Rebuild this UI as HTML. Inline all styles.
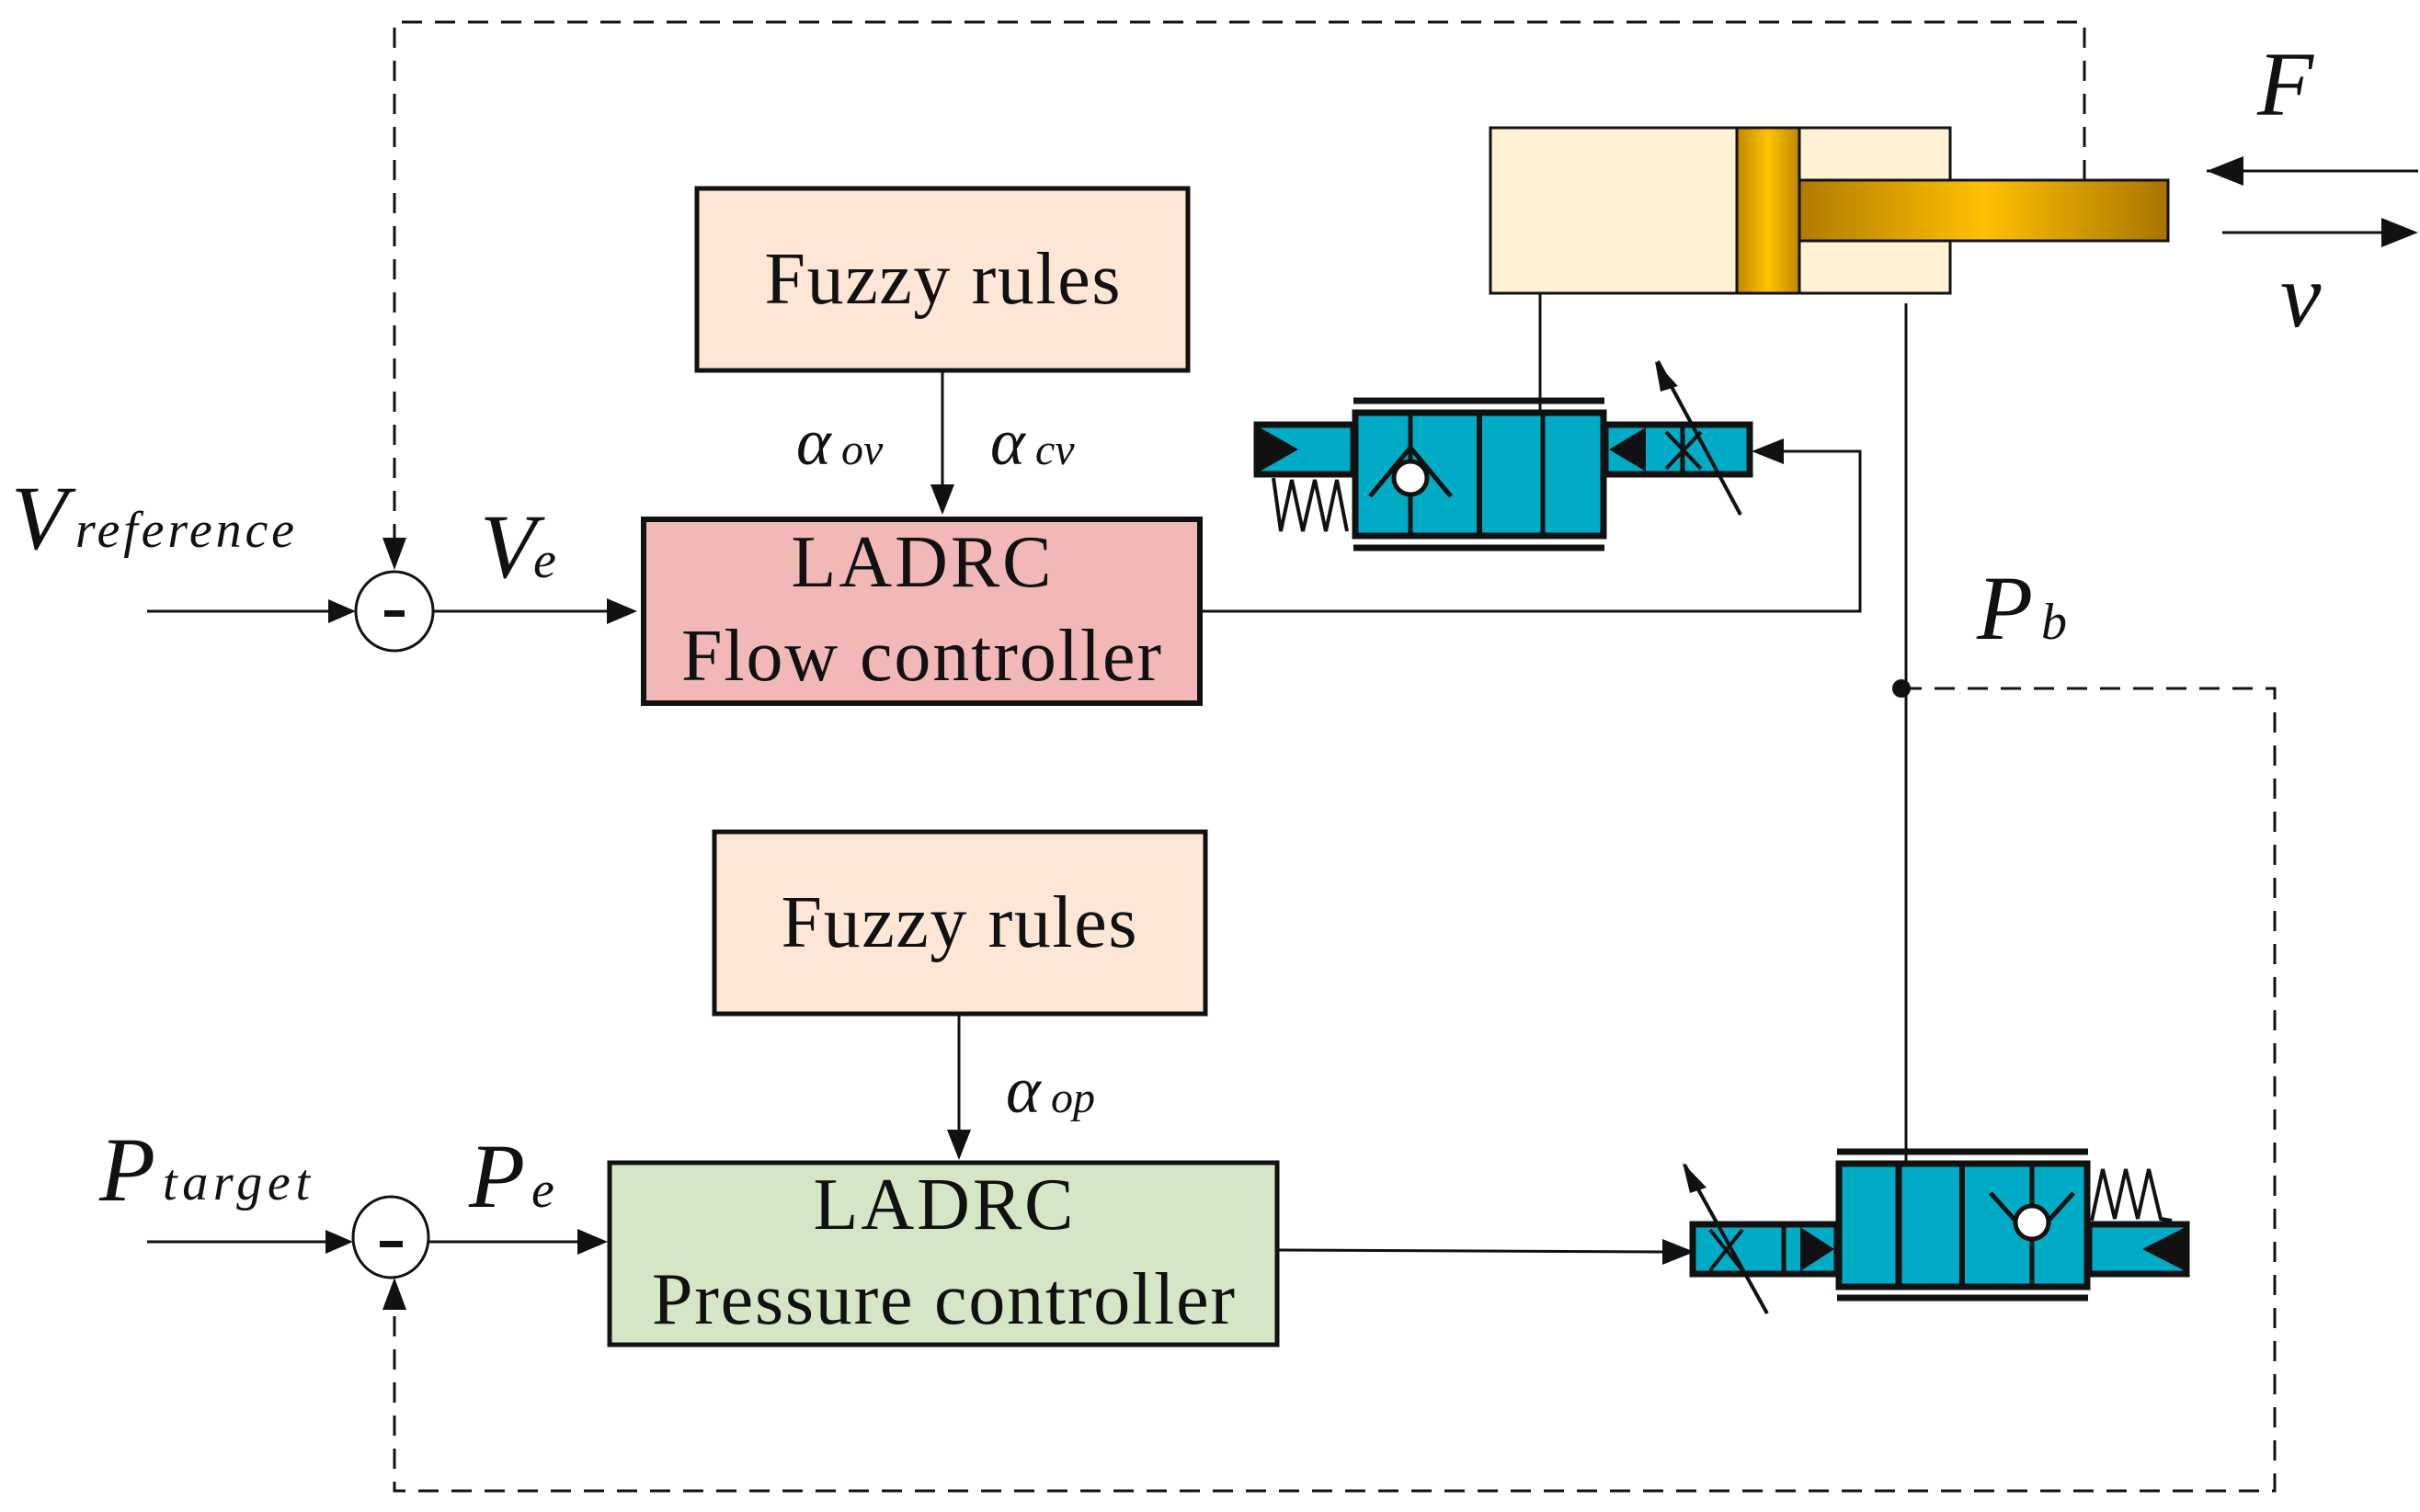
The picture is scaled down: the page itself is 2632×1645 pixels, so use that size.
<!DOCTYPE html>
<html><head><meta charset="utf-8"><style>
html,body{margin:0;padding:0;background:#fff}
svg{display:block}
.t{font-family:"Liberation Serif",serif;fill:#111}
.i{font-family:"Liberation Serif",serif;font-style:italic;fill:#111}
</style></head><body>
<svg width="2632" height="1645" viewBox="0 0 2632 1645" xmlns="http://www.w3.org/2000/svg">
<defs>
<marker id="ar" viewBox="0 0 10 10" refX="10" refY="5" markerWidth="10" markerHeight="10" markerUnits="userSpaceOnUse" orient="auto">
</marker>
<linearGradient id="gold" x1="0" y1="0" x2="1" y2="0">
<stop offset="0" stop-color="#b07a00"/><stop offset="0.5" stop-color="#ffc000"/><stop offset="1" stop-color="#a87400"/>
</linearGradient>
<linearGradient id="goldv" x1="0" y1="0" x2="1" y2="0">
<stop offset="0" stop-color="#c08800"/><stop offset="0.5" stop-color="#ffc400"/><stop offset="1" stop-color="#c08800"/>
</linearGradient>
</defs>
<g fill="none" stroke="#111" stroke-width="3">
<!-- dashed feedback top -->
<path d="M2267 196 V24 H429 V614" stroke-dasharray="22 14"/>
<!-- dashed feedback bottom -->
<path d="M2068 749 H2474 V1622 H429 V1400" stroke-dasharray="22 14"/>
<!-- input lines -->
<path d="M160 665 H360"/>
<path d="M471 665 H660"/>
<path d="M160 1351 H360"/>
<path d="M467 1351 H630"/>
<path d="M1025 404 V530"/>
<path d="M1043 1104 V1230"/>
<path d="M1306 665 H2023 V491 H1935"/>
<path d="M1390 1360 L1810 1362"/>
<!-- cylinder lines -->
<path d="M1675 320 V585"/>
<path d="M2073 330 V1263"/>
<path d="M2400 186 H2630"/>
<path d="M2417 253 H2590"/>
</g>
<!-- arrowheads -->
<g fill="#111">
<polygon points="387,665 357,652 357,678"/>
<polygon points="693,665 660,651 660,679"/>
<polygon points="384,1351 354,1338 354,1364"/>
<polygon points="661,1351 628,1337 628,1365"/>
<polygon points="429,620 416,585 442,585"/>
<polygon points="429,1390 416,1425 442,1425"/>
<polygon points="1025,560 1012,527 1038,527"/>
<polygon points="1043,1262 1030,1229 1056,1229"/>
<polygon points="1905,491 1940,477 1940,505"/>
<polygon points="1843,1362 1808,1348 1808,1376"/>
<polygon points="2400,186 2440,170 2440,202"/>
<polygon points="2630,253 2590,237 2590,269"/>
<circle cx="2068" cy="749" r="10"/>
</g>
<!-- sum circles -->
<ellipse cx="429" cy="665" rx="42" ry="43" fill="#fff" stroke="#111" stroke-width="3"/>
<rect x="418" y="664" width="22" height="7" fill="#111"/>
<ellipse cx="425" cy="1346" rx="41" ry="44" fill="#fff" stroke="#111" stroke-width="3"/>
<rect x="413" y="1350" width="25" height="7" fill="#111"/>
<!-- boxes -->
<rect x="758" y="205" width="534" height="198" fill="#fde6d6" stroke="#111" stroke-width="5"/>
<text class="t" x="1025" y="330" font-size="80" text-anchor="middle" textLength="387">Fuzzy rules</text>
<rect x="700" y="565" width="605" height="200" fill="#f2b8b8" stroke="#111" stroke-width="6"/>
<text class="t" x="1002" y="638" font-size="80" text-anchor="middle" textLength="283">LADRC</text>
<text class="t" x="1002" y="740" font-size="80" text-anchor="middle" textLength="522">Flow controller</text>
<rect x="777" y="905" width="534" height="198" fill="#fde6d6" stroke="#111" stroke-width="5"/>
<text class="t" x="1043" y="1030" font-size="80" text-anchor="middle" textLength="387">Fuzzy rules</text>
<rect x="663" y="1265" width="726" height="198" fill="#d5e6c6" stroke="#111" stroke-width="5"/>
<text class="t" x="1026" y="1337" font-size="80" text-anchor="middle" textLength="283">LADRC</text>
<text class="t" x="1026" y="1440" font-size="80" text-anchor="middle" textLength="634">Pressure controller</text>
<!-- labels -->
<text class="i" x="12" y="597" font-size="100">V</text>
<text class="i" x="82" y="595" font-size="56" textLength="238">reference</text>
<text class="i" x="522" y="628" font-size="100">V</text>
<text class="i" x="580" y="628" font-size="56">e</text>
<text class="i" x="866" y="505" font-size="72">α</text><text class="i" x="915" y="505" font-size="48">ov</text>
<text class="i" x="1077" y="505" font-size="72">α</text><text class="i" x="1126" y="505" font-size="48">cv</text>
<text class="i" x="1094" y="1210" font-size="72">α</text><text class="i" x="1143" y="1210" font-size="48">op</text>
<text class="i" x="108" y="1306" font-size="100">P</text>
<text class="i" x="177" y="1305" font-size="56" textLength="160">target</text>
<text class="i" x="510" y="1313" font-size="100">P</text>
<text class="i" x="578" y="1313" font-size="56">e</text>
<text class="i" x="2150" y="695" font-size="100">P</text>
<text class="i" x="2220" y="695" font-size="56">b</text>
<text class="i" x="2455" y="125" font-size="100">F</text>
<text class="i" x="2480" y="355" font-size="100">v</text>
<!-- cylinder -->
<rect x="1621" y="139" width="500" height="180" fill="#fff1d4" stroke="#111" stroke-width="3"/>
<rect x="1889" y="139" width="68" height="180" fill="url(#goldv)" stroke="#111" stroke-width="3"/>
<rect x="1957" y="196" width="401" height="66" fill="url(#gold)" stroke="#111" stroke-width="3"/>
<!-- valve 1 -->
<g stroke="#111">
<rect x="1367" y="462" width="105" height="54" fill="#00abc6" stroke-width="7"/>
<rect x="1474" y="449" width="270" height="134" fill="#00abc6" stroke-width="7"/>
<rect x="1746" y="462" width="157" height="54" fill="#00abc6" stroke-width="7"/>
<line x1="1472" y1="436" x2="1745" y2="436" stroke-width="7"/>
<line x1="1472" y1="596" x2="1745" y2="596" stroke-width="7"/>
<line x1="1534" y1="452" x2="1534" y2="582" stroke-width="5"/>
<line x1="1609" y1="452" x2="1609" y2="582" stroke-width="6"/>
<line x1="1678" y1="452" x2="1678" y2="582" stroke-width="5"/>
<line x1="1830" y1="465" x2="1830" y2="515" stroke-width="5"/>
<path d="M1490 540 L1534 487 L1578 540" fill="none" stroke-width="5"/>
<circle cx="1534" cy="520" r="18" fill="#fff" stroke-width="5"/>
<path d="M1385 520 L1393 578 L1405 522 L1417 578 L1430 522 L1442 578 L1454 522 L1465 578" fill="none" stroke-width="4"/>
<path d="M1812 470 L1850 510 M1850 470 L1812 510" stroke-width="4"/>
<line x1="1803" y1="393" x2="1893" y2="560" stroke-width="4"/>
</g>
<g fill="#111">
<polygon points="1370,465 1412,489 1370,513"/>
<polygon points="1790,465 1750,489 1790,513"/>
<polygon points="1800,393 1825,420 1806,426"/>
</g>
<!-- valve 2 -->
<g stroke="#111">
<rect x="1841" y="1332" width="157" height="54" fill="#00abc6" stroke-width="7"/>
<rect x="2000" y="1266" width="270" height="134" fill="#00abc6" stroke-width="7"/>
<rect x="2272" y="1332" width="106" height="54" fill="#00abc6" stroke-width="7"/>
<line x1="1998" y1="1253" x2="2271" y2="1253" stroke-width="7"/>
<line x1="1998" y1="1412" x2="2271" y2="1412" stroke-width="7"/>
<line x1="2065" y1="1263" x2="2065" y2="1398" stroke-width="7"/>
<line x1="2134" y1="1268" x2="2134" y2="1398" stroke-width="6"/>
<line x1="2210" y1="1268" x2="2210" y2="1398" stroke-width="5"/>
<line x1="1940" y1="1335" x2="1940" y2="1385" stroke-width="5"/>
<path d="M2165 1298 L2210 1348 L2255 1298" fill="none" stroke-width="5"/>
<circle cx="2210" cy="1330" r="18" fill="#fff" stroke-width="5"/>
<path d="M2275 1328 L2287 1272 L2300 1326 L2312 1272 L2325 1326 L2337 1272 L2350 1326 L2362 1328" fill="none" stroke-width="4"/>
<path d="M1860 1338 L1895 1382 M1895 1338 L1860 1382" stroke-width="4"/>
<line x1="1832" y1="1267" x2="1922" y2="1429" stroke-width="4"/>
</g>
<g fill="#111">
<polygon points="1958,1335 1995,1359 1958,1383"/>
<polygon points="2377,1335 2330,1359 2377,1383"/>
<polygon points="1830,1265 1856,1292 1838,1298"/>
</g>
</svg>
</body></html>
